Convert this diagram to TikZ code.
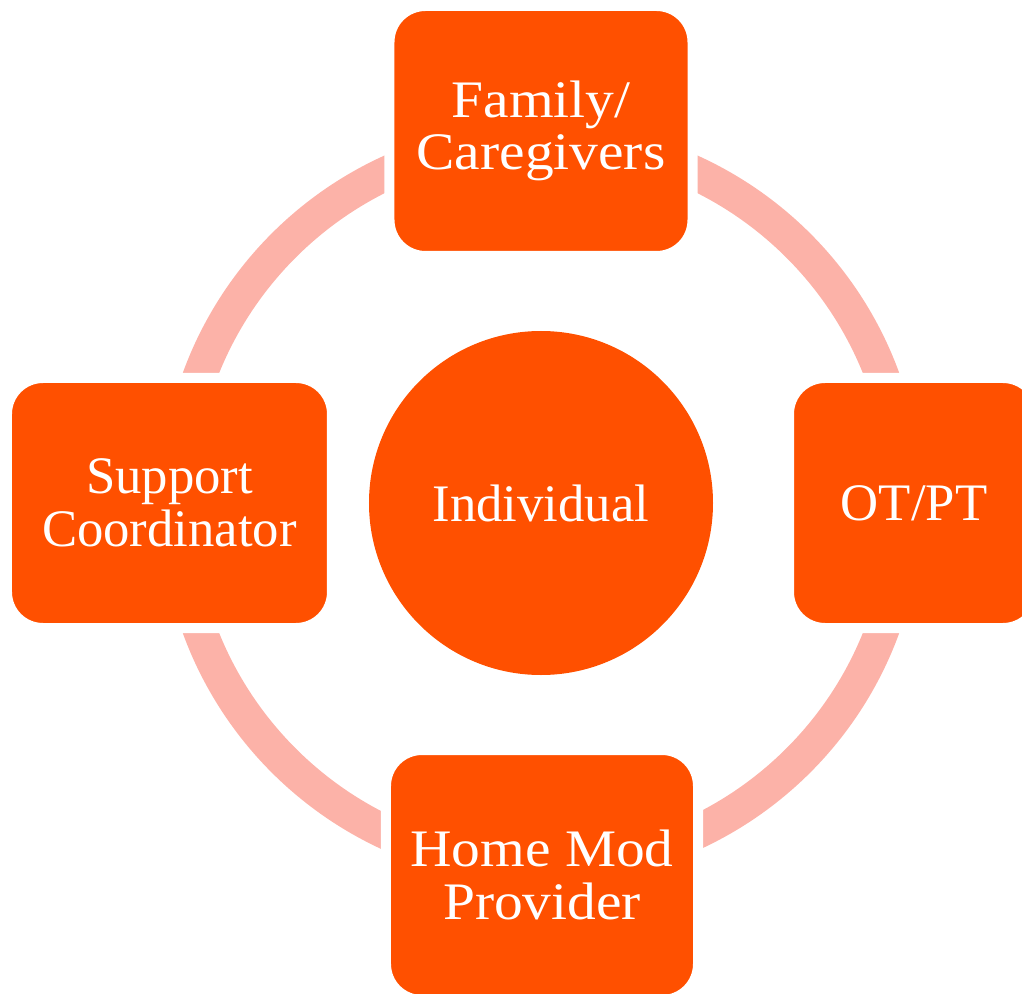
\documentclass[tikz,border=0pt]{standalone}
\usepackage{fontspec}
\setmainfont{Liberation Serif}
\newfontfamily\widefont{Liberation Serif}[FakeStretch=1.09]
\usetikzlibrary{positioning}

\definecolor{boxorange}{RGB}{255,80,0}
\definecolor{ringpink}{RGB}{252,178,168}

\tikzset{
member/.style={rectangle,rounded corners=0.72cm,fill=boxorange,draw=white,line width=0.2cm,
  text=white,align=center,minimum height=5cm,font=\fontsize{30}{30}\selectfont},
widemember/.style={member,font=\fontsize{30}{30}\selectfont\widefont},
hub/.style={circle,fill=boxorange,text=white,minimum size=6.88cm,font=\fontsize{30}{30}\selectfont}
}

\begin{document}
\begin{tikzpicture}
\useasboundingbox (-10.82,-9.80) rectangle (9.62,10.06);
\clip (-10.82,-9.80) rectangle (9.62,10.06);

% ring behind the boxes
\draw[ringpink,line width=0.68cm] (0,0) circle (7.28);

\node[hub](ind) at (0,0){Individual};
\node[widemember,minimum width=6.06cm](fam) at (0,7.44){Family/\\Caregivers};
\node[member,minimum width=5cm](otpt) at (7.46,0){OT/PT};
\node[widemember,minimum width=6.24cm](home) at (0.02,-7.44){Home Mod\\Provider};
\node[member,minimum width=6.5cm](supp) at (-7.43,0){Support\\Coordinator};
\end{tikzpicture}
\end{document}
